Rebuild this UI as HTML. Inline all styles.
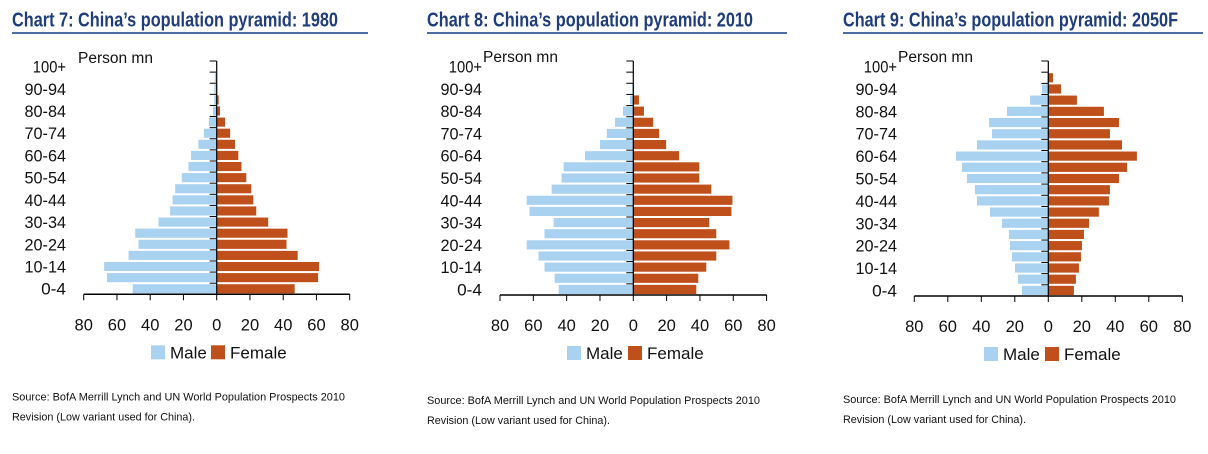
<!DOCTYPE html>
<html><head><meta charset="utf-8"><style>
html,body{margin:0;padding:0;background:#fff;}
svg{display:block;font-family:"Liberation Sans",Arial,sans-serif;}
</style></head><body>
<svg id="root" width="1208" height="454" viewBox="0 0 1208 454"></svg>
<script>
const ageGroups = ["0-4","5-9","10-14","15-19","20-24","25-29","30-34","35-39","40-44","45-49","50-54","55-59","60-64","65-69","70-74","75-79","80-84","85-89","90-94","95-99","100+"];
const tickValues = [80,60,40,20,0,20,40,60,80];
const male1980 = [50.5,66,67.7,53,47,49,35,28,26.5,25,21,17,15.5,11,7.7,4.6,2.2,1.5,1.4,1.2,0];
const female1980 = [46.9,61,61.6,48.7,42,42.6,31,23.8,22,20.8,17.8,14.9,13,11,8.1,5,2,1.2,0.3,0.1,0];
const male2010 = [44.8,47.2,53.3,56.9,64,53.3,47.8,62.3,64,49,43,41.8,29,20,15.9,11,6.2,2,0.6,0.2,0];
const female2010 = [37.8,39,43.8,49.8,57.7,49.8,45.6,58.9,59.5,46.8,39.6,39.6,27.5,19.7,15.5,11.9,6.4,3.4,0.4,0.1,0];
const male2050 = [15.7,18.1,19.9,21.7,22.9,23.5,27.7,34.8,42.6,43.8,48.6,51.5,55.1,42.6,33.6,35.4,24.7,10.9,3.8,0.6,0];
const female2050 = [15.3,16.5,18.3,19.5,20.1,21.3,24.3,30.2,36.2,36.8,42.2,47,52.9,44,36.8,42.2,33.2,17.1,7.6,2.8,0.3];

const NS="http://www.w3.org/2000/svg";
const root=document.getElementById('root');
function mk(tag,attrs,parent,text){const e=document.createElementNS(NS,tag);for(const k in attrs)e.setAttribute(k,attrs[k]);if(text!==undefined)e.textContent=text;parent.appendChild(e);return e;}

const charts=[
 {title:"Chart 7: China\u2019s population pyramid: 1980",tx:12,ulEnd:368,tw:326,zero:216.7,half:133,top:61,axisY:294.3,labX:66,pmX:78,pmY:63,legM:151,legF:211,srcY:400.5,male:male1980,female:female1980},
 {title:"Chart 8: China\u2019s population pyramid: 2010",tx:427,ulEnd:787,tw:326,zero:633.3,half:133.3,top:61,axisY:295,labX:482,pmX:483,pmY:62,legM:567,legF:628,srcY:404,male:male2010,female:female2010},
 {title:"Chart 9: China\u2019s population pyramid: 2050F",tx:843,ulEnd:1203,tw:335,zero:1048.3,half:134,top:61,axisY:296,labX:897,pmX:898,pmY:62,legM:984,legF:1045,srcY:403,male:male2050,female:female2050}
];

charts.forEach((c,ci)=>{
 const g=mk('g',{},root);
 
 
 const t=mk('text',{x:c.tx,y:26.5,'font-size':20,'font-weight':'bold',fill:'#1f3d7a',textLength:c.tw,lengthAdjust:'spacingAndGlyphs'},g,c.title);
 
 
 const ul=mk('rect',{x:c.tx,y:32,width:c.ulEnd-c.tx,height:2,fill:'#4a6fa5'},g);
 
 
 const n=ageGroups.length;
 const pitch=(c.axisY-c.top)/n;
 const sx=v=>v*c.half/80;
 const yRow=i=>c.axisY-(i+1)*pitch;
 for(let i=0;i<n;i++){
  const y=yRow(i)+1;
  const bw=pitch-2;
  const m=mk('rect',{x:c.zero-sx(c.male[i]),y:y,width:sx(c.male[i]),height:bw,fill:'#a9d1f0'},g);
  
  
  const f=mk('rect',{x:c.zero,y:y,width:sx(c.female[i]),height:bw,fill:'#c0501b'},g);
  
  
  if(i%2===0){
   const l=mk('text',{x:c.labX,y:yRow(i)+pitch/2+6,'font-size':16.5,'text-anchor':'end',fill:'#111',textLength:ageGroups[i].length*8.3,lengthAdjust:'spacingAndGlyphs'},g,ageGroups[i]);
   
   
  }
 }
 const va=mk('line',{x1:c.zero,y1:c.top,x2:c.zero,y2:c.axisY,stroke:'#000','stroke-width':1.2},g);
 
 
 for(let i=0;i<=n;i++){
  const tk=mk('line',{x1:c.zero-7,y1:c.axisY-i*pitch,x2:c.zero,y2:c.axisY-i*pitch,stroke:'#000','stroke-width':1},g);
  
  
 }
 const ha=mk('line',{x1:c.zero-c.half,y1:c.axisY,x2:c.zero+c.half,y2:c.axisY,stroke:'#000','stroke-width':1.5},g);
 
 
 tickValues.forEach((v,k)=>{
  const x=c.zero+(k<4?-sx(v):sx(v));
  const tk=mk('line',{x1:x,y1:c.axisY,x2:x,y2:c.axisY+6,stroke:'#000','stroke-width':1},g);
  
  
  const tl=mk('text',{x:x,y:c.axisY+36,'font-size':16.5,'text-anchor':'middle',fill:'#111'},g,String(v));
  
  
 });
 const pm=mk('text',{x:c.pmX,y:c.pmY,'font-size':15.5,fill:'#111'},g,'Person mn');
 
 
 const ly=c.axisY+51;
 const lm=mk('rect',{x:c.legM,y:ly,width:14,height:14,fill:'#a9d1f0'},g);
 
 
 const lmt=mk('text',{x:c.legM+19,y:ly+13,'font-size':17,fill:'#111'},g,'Male');
 
 
 const lf=mk('rect',{x:c.legF,y:ly,width:14,height:14,fill:'#c0501b'},g);
 
 
 const lft=mk('text',{x:c.legF+19,y:ly+13,'font-size':17,fill:'#111'},g,'Female');
 
 
 const s1=mk('text',{x:c.tx,y:c.srcY,'font-size':11,fill:'#111',textLength:333,lengthAdjust:'spacingAndGlyphs'},g,'Source: BofA Merrill Lynch and UN World Population Prospects 2010');
 
 
 const s2=mk('text',{x:c.tx,y:c.srcY+20,'font-size':11,fill:'#111',textLength:183,lengthAdjust:'spacingAndGlyphs'},g,'Revision (Low variant used for China).');
 
 
});
</script>
</body></html>
